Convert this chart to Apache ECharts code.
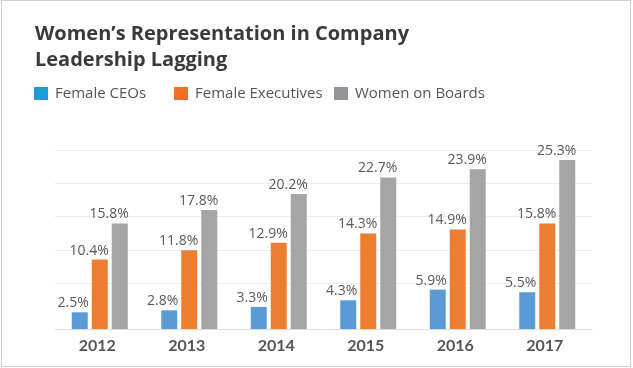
<!DOCTYPE html>
<html>
<head>
<meta charset="utf-8">
<script src="https://cdn.jsdelivr.net/npm/echarts@6/dist/echarts.min.js"></script>
<style>
  html, body { margin: 0; padding: 0; background: #fff; }
  #wrap { position: relative; width: 633px; height: 368px; }
  #chart { position: absolute; left: 0; top: 0; width: 633px; height: 368px; }
  #frame { position: absolute; left: 1px; top: 0; width: 630px; height: 367px; border: 1px solid #cfcfcf; box-sizing: border-box; pointer-events: none; }
</style>
</head>
<body>
<div id="wrap"><div id="chart"></div><div id="frame"></div></div>
<script>
const titleText = 'Women\u2019s Representation in Company\nLeadership Lagging';
const categories = ['2012', '2013', '2014', '2015', '2016', '2017'];
const seriesNames = ['Female CEOs', 'Female Executives', 'Women on Boards'];
const femaleCEOs = [2.5, 2.8, 3.3, 4.3, 5.9, 5.5];
const femaleExecutives = [10.4, 11.8, 12.9, 14.3, 14.9, 15.8];
const womenOnBoards = [15.8, 17.8, 20.2, 22.7, 23.9, 25.3];
const barColors = ['#5b9bd5', '#ed7d31', '#a5a5a5'];
const legendColors = ['#1b9ad6', '#f36f21', '#939598'];

const chart = echarts.init(document.getElementById('chart'), null, { renderer: 'canvas' });

const labelFont = '"Open Sans", Lato, sans-serif';

function makeSeries(name, data, color) {
  return {
    name: name,
    type: 'bar',
    xAxisIndex: 0,
    yAxisIndex: 0,
    data: data,
    barWidth: 16,
    barGap: '25%',
    itemStyle: { color: color },
    label: {
      show: true,
      position: ['100%', 0],
      align: 'right',
      verticalAlign: 'bottom',
      offset: [1, -2],
      color: '#595959',
      fontFamily: labelFont,
      fontSize: 14,
      formatter: p => p.value.toFixed(1) + '%'
    }
  };
}

function makeLegend(i, left) {
  return {
    data: [{ name: seriesNames[i], itemStyle: { color: legendColors[i] } }],
    left: left,
    top: 86,
    icon: 'rect',
    itemWidth: 14,
    itemHeight: 13,
    padding: 0,
    textStyle: { color: '#555', fontFamily: labelFont, fontSize: 15, padding: [0, 0, 0, 2] }
  };
}

const option = {
  animation: false,
  backgroundColor: '#fff',
  title: {
    text: titleText,
    left: 35,
    top: 21,
    padding: 0,
    textStyle: {
      fontFamily: '"Open Sans", Lato, sans-serif',
      fontWeight: 'bold',
      fontSize: 20,
      lineHeight: 26,
      color: '#3a3a3a'
    }
  },
  legend: [makeLegend(0, 34), makeLegend(1, 174), makeLegend(2, 334)],
  grid: [
    { left: 55, right: 41, top: 150, bottom: 39 },
    { left: 55, right: 41, top: 150, bottom: 85 }
  ],
  xAxis: [
    {
      type: 'category',
      gridIndex: 0,
      data: categories,
      axisTick: { show: false },
      axisLine: { lineStyle: { color: '#dcdcdc', width: 1 } },
      axisLabel: {
        margin: 9,
        color: '#555',
        fontFamily: 'Lato, sans-serif',
        fontWeight: 'bold',
        fontSize: 16,
        padding: [0, 5, 0, 0]
      }
    },
    { type: 'value', gridIndex: 1, show: false }
  ],
  yAxis: [
    { type: 'value', gridIndex: 0, min: 0, max: 26.8, show: false, splitLine: { show: false } },
    {
      type: 'value', gridIndex: 1, min: 0, max: 20, interval: 5,
      axisLine: { show: false }, axisTick: { show: false }, axisLabel: { show: false },
      splitLine: { show: true, lineStyle: { color: '#ececec', width: 1 } }
    }
  ],
  series: [
    makeSeries(seriesNames[0], femaleCEOs, barColors[0]),
    makeSeries(seriesNames[1], femaleExecutives, barColors[1]),
    makeSeries(seriesNames[2], womenOnBoards, barColors[2])
  ]
};

chart.setOption(option);
</script>
</body>
</html>
